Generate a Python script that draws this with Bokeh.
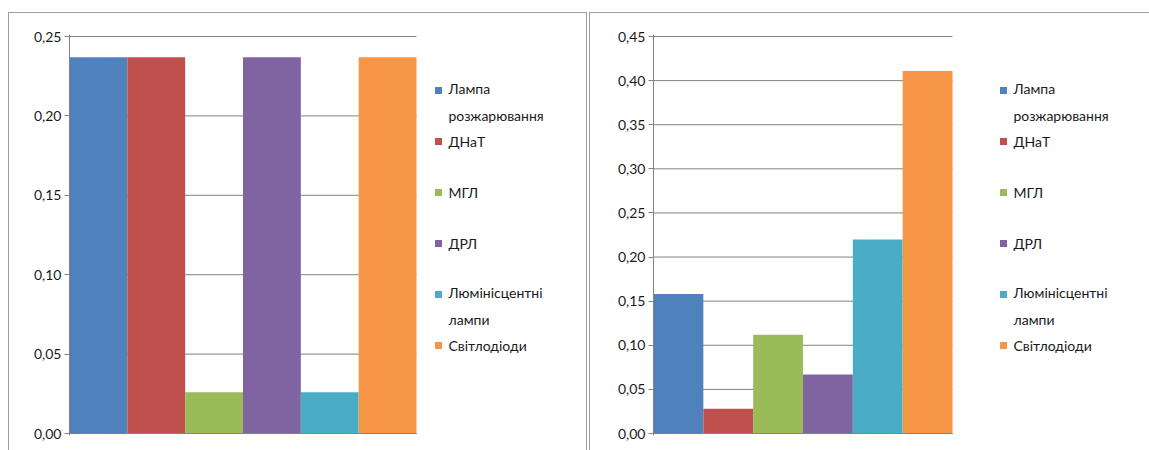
from bokeh.plotting import figure
from bokeh.layouts import row
from bokeh.models import Range1d, FixedTicker, CustomJSTickFormatter, ColumnDataSource
from bokeh.core.properties import value
from bokeh.embed import file_html
from bokeh.resources import INLINE

# ---------------- data ----------------
series = ["Лампа\nрозжарювання", "ДНаТ", "МГЛ", "ДРЛ", "Люмінісцентні\nлампи", "Світлодіоди"]
colors = ["#4F81BD", "#C0504D", "#9BBB59", "#8064A2", "#4BACC6", "#F79646"]
left_values = [0.237, 0.237, 0.026, 0.237, 0.026, 0.237]
right_values = [0.158, 0.028, 0.112, 0.067, 0.220, 0.411]
left_ticks = [0.00, 0.05, 0.10, 0.15, 0.20, 0.25]
right_ticks = [0.00, 0.05, 0.10, 0.15, 0.20, 0.25, 0.30, 0.35, 0.40, 0.45]

# ---------------- style ----------------
FONT = "Lato"
GRID = "#828282"
TEXT = "#1a1a1a"
BORDER = "1px solid #a0a0a0"

FIG_H = 438
TOP_PAD, BOTTOM_PAD = 21, 16
FRAME_H = FIG_H - TOP_PAD - BOTTOM_PAD
EDGE_PX = 2  # room so edge gridlines are not clipped

LEG_FIRST, LEG_PITCH, LEG_LINE = 56, 51, 23


def panel(values, ticks, fig_w, margin, mb_left, mb_right, bars_px, sq_x, txt_x, borders):
    n = len(series)
    frame_w = fig_w - mb_left - mb_right
    ymax = ticks[-1]
    plot_px = FRAME_H - 2 * EDGE_PX
    pad = ymax * EDGE_PX / plot_px
    x_end = -0.5 + frame_w / (bars_px / n)

    styles = {b: BORDER for b in borders}
    p = figure(width=fig_w, height=FIG_H, output_backend="svg", toolbar_location=None,
               x_range=Range1d(-0.5, x_end), y_range=Range1d(-pad, ymax + pad),
               x_axis_type=None, min_border_left=mb_left, min_border_right=mb_right,
               min_border_top=TOP_PAD, min_border_bottom=BOTTOM_PAD,
               outline_line_color=None, background_fill_color="white",
               border_fill_color="white", margin=margin, styles=styles)
    p.ygrid.visible = False
    p.extra_x_ranges = {"px": Range1d(0, frame_w)}
    p.extra_y_ranges = {"px": Range1d(FRAME_H, 0)}

    ax = p.yaxis[0]
    ax.ticker = FixedTicker(ticks=ticks)
    ax.formatter = CustomJSTickFormatter(code="return tick.toFixed(2).replace('.', ',');")
    ax.axis_line_color = GRID
    ax.major_tick_line_color = GRID
    ax.major_tick_out = 5
    ax.major_tick_in = 0
    ax.minor_tick_line_color = None
    ax.major_label_text_font = FONT
    ax.major_label_text_font_size = "14px"
    ax.major_label_text_color = TEXT
    ax.major_label_standoff = 3

    # horizontal gridlines over the bar area only
    p.segment(x0=[-0.5] * len(ticks), x1=[n - 0.5] * len(ticks), y0=ticks, y1=ticks,
              line_color=GRID, line_width=1)

    src = ColumnDataSource(dict(x=list(range(n)), top=values, color=colors, name=series))
    p.vbar(x="x", top="top", bottom=0, width=1.0, fill_color="color", line_color=None, source=src)
    p.segment(x0=[-0.5], x1=[n - 0.5], y0=[0], y1=[0], line_color=GRID, line_width=1)

    # legend (drawn in frame-pixel coordinates)
    nlines = [s.count("\n") + 1 for s in series]
    sq_y = [LEG_FIRST + i * LEG_PITCH for i in range(n)]
    tx_y = [LEG_FIRST + i * LEG_PITCH + (k - 1) * LEG_LINE / 2 for i, k in enumerate(nlines)]
    p.rect(x=[sq_x] * n, y=sq_y, width=7, height=7, width_units="screen", height_units="screen",
           fill_color=colors, line_color=None, x_range_name="px", y_range_name="px")
    p.text(x=[txt_x] * n, y=tx_y, text=series, x_range_name="px", y_range_name="px",
           text_font=value(FONT), text_font_size="14px", text_color=TEXT,
           text_align="left", text_baseline="middle", text_line_height=LEG_LINE / 14)
    return p


left = panel(left_values, left_ticks, 579, (12, 0, 0, 8), 60, 7, 347, 369, 379,
             ["border-top", "border-left", "border-right"])
right = panel(right_values, right_ticks, 560, (12, 0, 0, 2), 63, 9, 299, 350, 360,
              ["border-top", "border-left"])

layout = row(left, right)
open("out.html", "w").write(file_html(layout, INLINE))
